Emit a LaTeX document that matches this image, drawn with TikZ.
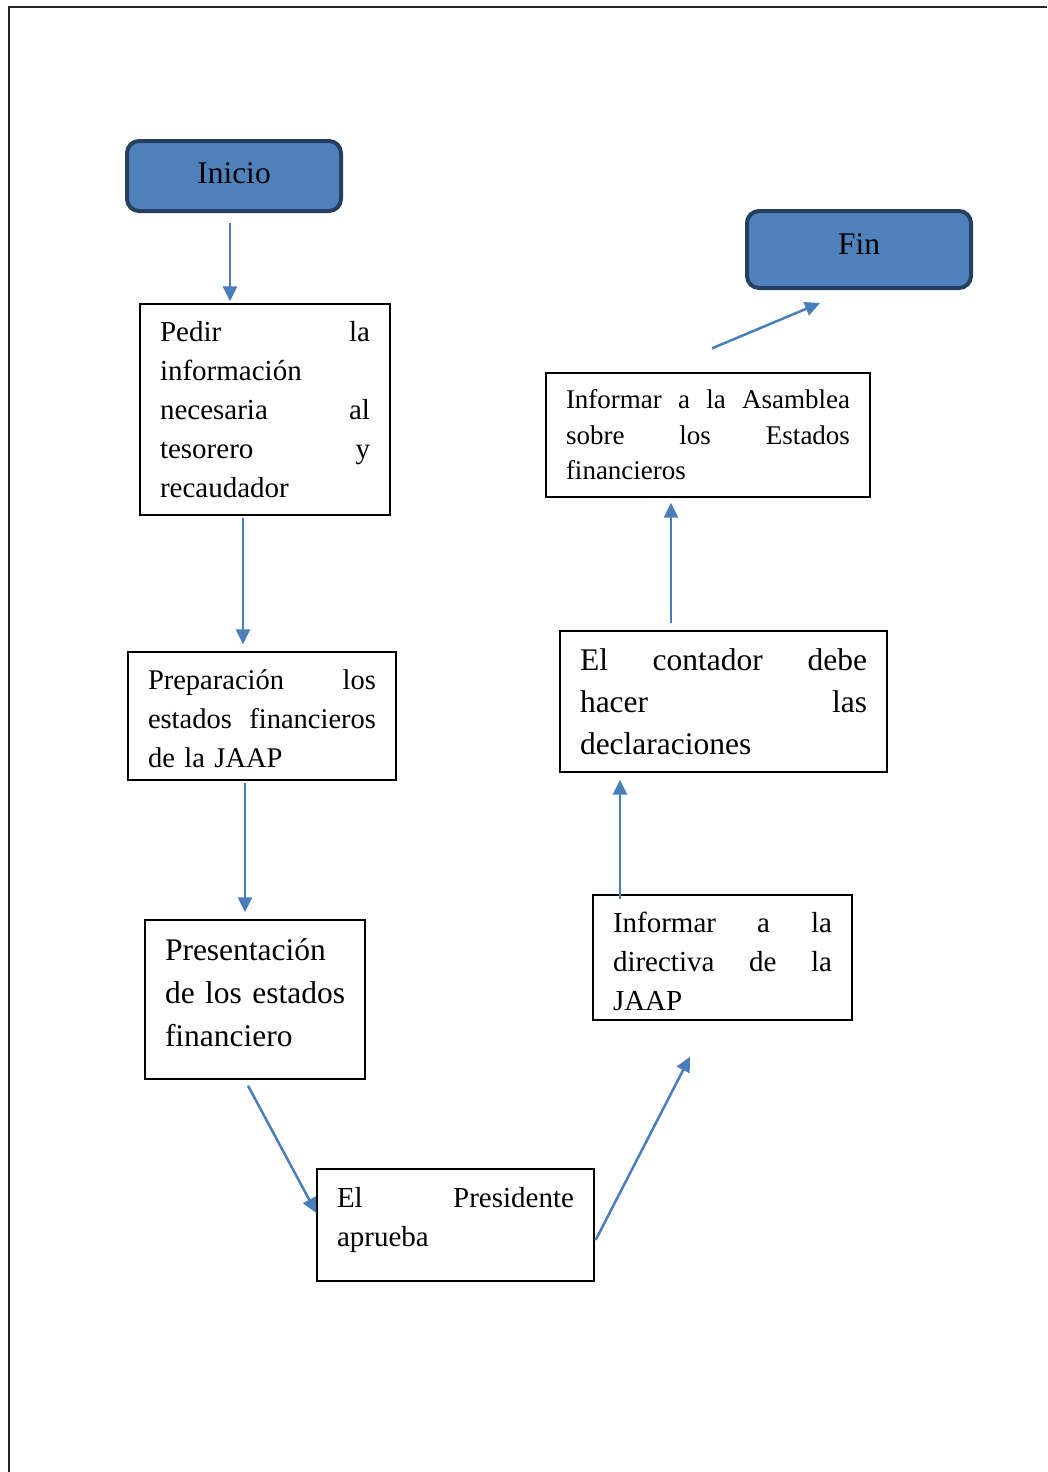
\documentclass[tikz,border=0pt]{standalone}
\usepackage{fontspec}
\setmainfont{Liberation Serif}
\usetikzlibrary{arrows.meta}

\definecolor{flowblue}{HTML}{4F81BD}
\definecolor{flowedge}{HTML}{243F60}
\definecolor{linkblue}{HTML}{4A7EBB}

\tikzset{
  terminal/.style={draw=flowedge, line width=4pt, fill=flowblue, rounded corners=12pt,
    inner sep=0pt, font=\fontsize{31.5}{38}\selectfont},
  stepbox/.style={draw=black, line width=1.3pt, inner sep=0pt, align=left},
  arr/.style={draw=linkblue, line width=2.5pt, -{Triangle[length=15pt,width=14pt]}},
}

\begin{document}
\begin{tikzpicture}[x=1pt, y=-1pt]
\useasboundingbox (0,0) rectangle (1047,1472);

% page frame
\draw[line width=2pt, black!85] (8.5,1472) -- (8.5,7) -- (1047,7);

% start and end
\node[terminal, minimum width=214pt, minimum height=70pt, text depth=6pt] (ini) at (234,176) {Inicio};
\node[terminal, minimum width=224pt, minimum height=77pt, text depth=10pt] (fin) at (859,249.5) {Fin};

% left column
\node[stepbox, minimum width=250pt, minimum height=211pt, text width=210pt,
      font=\fontsize{29}{39}\selectfont] (b1) at (265,409.5)
  {Pedir\hfill la\\ información\\ necesaria\hfill al\\ tesorero\hfill y\\ recaudador};

\node[stepbox, minimum width=268pt, minimum height=128pt, text width=228pt,
      text height=25.5pt, font=\fontsize{28.5}{39}\selectfont] (b2) at (262,716)
  {Preparación\hfill los\\ estados\hfill financieros\\ de la JAAP};

\node[stepbox, minimum width=220pt, minimum height=159pt, text width=180pt,
      text depth=100pt, font=\fontsize{31.5}{43}\selectfont] (b3) at (255,999.5)
  {\mbox{Presentación}\\ \mbox{de los estados}\\ \mbox{financiero}};

% bottom
\node[stepbox, minimum width=277pt, minimum height=112pt, text width=237pt,
      text depth=55.3pt, font=\fontsize{29}{39}\selectfont] (pres) at (455.5,1225)
  {El\hfill Presidente\\ aprueba};

% right column
\node[stepbox, minimum width=259pt, minimum height=125pt, text width=219pt,
      text height=27.6pt, font=\fontsize{29}{39}\selectfont] (dir) at (722.5,957.5)
  {Informar\hfill a\hfill la\\ directiva\hfill de\hfill la\\ JAAP};

\node[stepbox, minimum width=327pt, minimum height=141pt, text width=287pt,
      font=\fontsize{31.5}{42}\selectfont] (cont) at (723.5,701.5)
  {El\hfill contador\hfill debe\\ hacer\hfill las\\ declaraciones};

\node[stepbox, minimum width=324pt, minimum height=124pt, text width=284pt,
      font=\fontsize{27}{35.5}\selectfont] (asam) at (708,435)
  {Informar\hfill a\hfill la\hfill Asamblea\\ sobre\hfill los\hfill Estados\\ financieros};

% connectors
\draw[arr] ([xshift=-4pt,yshift=-10pt]ini.south) -- ([xshift=-35pt,yshift=2pt]b1.north);
\draw[arr] ([xshift=-22pt,yshift=-2pt]b1.south) -- ([xshift=-19pt,yshift=7pt]b2.north);
\draw[arr] ([xshift=-17pt,yshift=-2pt]b2.south) -- ([xshift=-10pt,yshift=7pt]b3.north);
\draw[arr] ([xshift=-7pt,yshift=-6pt]b3.south) -- ([yshift=12pt]pres.west);
\draw[arr] ([xshift=1pt,yshift=-15pt]pres.east) -- ([xshift=-32.5pt,yshift=-36pt]dir.south);
\draw[arr] ([xshift=-102.5pt,yshift=-5pt]dir.north) -- ([xshift=-103.5pt,yshift=-7pt]cont.south);
\draw[arr] ([xshift=-52.5pt,yshift=7pt]cont.north) -- ([xshift=-37pt,yshift=-5pt]asam.south);
\draw[arr] ([xshift=4pt,yshift=24pt]asam.north) -- ([xshift=-39pt,yshift=-13pt]fin.south);
\end{tikzpicture}
\end{document}
